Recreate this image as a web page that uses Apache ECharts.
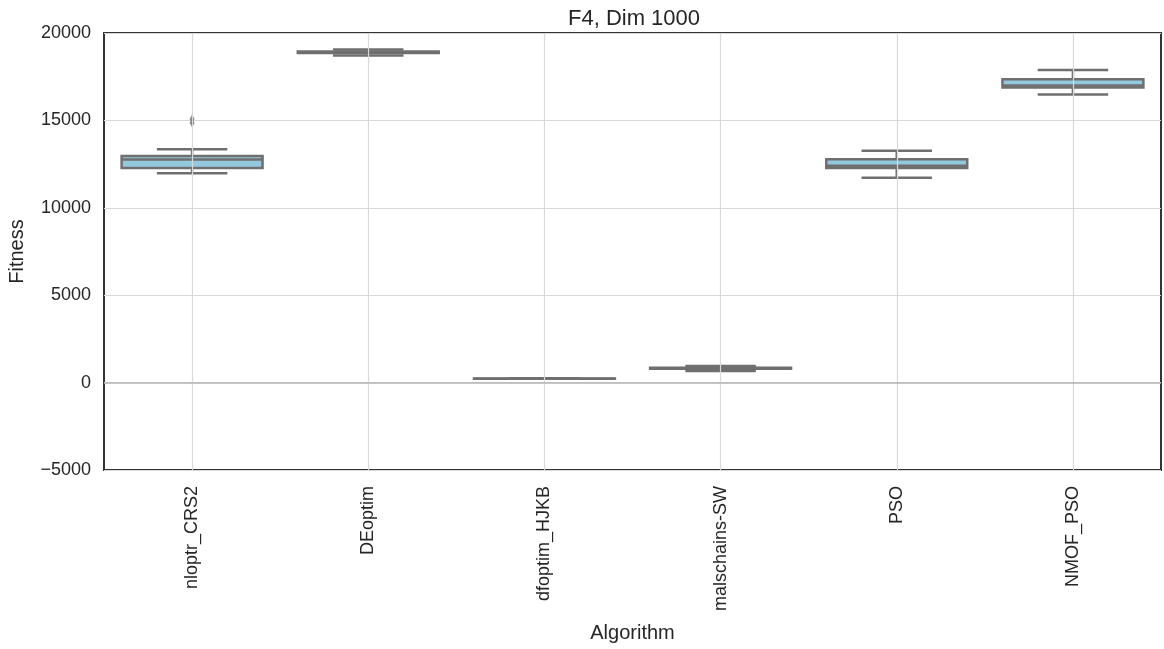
<!DOCTYPE html>
<html>
<head>
<meta charset="utf-8">
<script src="https://cdn.jsdelivr.net/npm/echarts@6/dist/echarts.min.js"></script>
<style>
	html, body { margin: 0; padding: 0; background: #fff; }
	#chart { width: 1164px; height: 649px; }
</style>
</head>
<body>
<div id="chart"></div>
<script>
// values
const categories = ['nloptr_CRS2', 'DEoptim', 'dfoptim_HJKB', 'malschains-SW', 'PSO', 'NMOF_PSO'];
const whiskerLow  = [11970, 18710, 215, 665, 11720, 16480];
const q1          = [12275, 18850, 222, 790, 12275, 16880];
const median      = [12770, 18900, 225, 820, 12410, 17000];
const q3          = [12960, 18940, 228, 850, 12775, 17350];
const whiskerHigh = [13345, 19050, 235, 950, 13265, 17880];
const outliers = [[0, 14850], [0, 15080]];

const yTicks = { min: -5000, max: 20000, step: 5000 };

const boxColor = '#93c9de';
const lineColor = '#6f6f6f';
const gridColor = '#d9d9d9';
const textColor = '#262626';
const fontName = '"Liberation Sans", Arial, sans-serif';

let boxData = categories.map((c, i) => [i, whiskerLow[i], q1[i], median[i], q3[i], whiskerHigh[i]]);

function renderBox(params, api) {
	let idx = api.value(0);
	let band = api.size([1, 0])[0];
	let boxW = band * 0.8;
	let capW = boxW * 0.5;
	let pLow = api.coord([idx, api.value(1)]);
	let pQ1 = api.coord([idx, api.value(2)]);
	let pMed = api.coord([idx, api.value(3)]);
	let pQ3 = api.coord([idx, api.value(4)]);
	let pHigh = api.coord([idx, api.value(5)]);
	let x = pMed[0];
	let ls = { stroke: lineColor, lineWidth: 2.5, fill: null };
	return {
		type: 'group',
		children: [
			{ type: 'rect', shape: { x: x - boxW / 2, y: pQ3[1], width: boxW, height: pQ1[1] - pQ3[1] },
			  style: { fill: boxColor, stroke: lineColor, lineWidth: 2.5 } },
			{ type: 'line', shape: { x1: x, y1: pQ3[1], x2: x, y2: pHigh[1] }, style: ls },
			{ type: 'line', shape: { x1: x, y1: pQ1[1], x2: x, y2: pLow[1] }, style: ls },
			{ type: 'line', shape: { x1: x - capW / 2, y1: pHigh[1], x2: x + capW / 2, y2: pHigh[1] }, style: ls },
			{ type: 'line', shape: { x1: x - capW / 2, y1: pLow[1], x2: x + capW / 2, y2: pLow[1] }, style: ls },
			{ type: 'line', shape: { x1: x - boxW / 2, y1: pMed[1], x2: x + boxW / 2, y2: pMed[1] }, style: ls }
		]
	};
}

let myChart = echarts.init(document.getElementById('chart'));
let gridLines = categories.map(c => ({ xAxis: c }));
gridLines.push({ yAxis: 0, lineStyle: { color: '#b3b3b3', width: 1.5 } });

let option = {
	animation: false,
	title: {
		text: 'F4, Dim 1000',
		left: 563,
		top: 3,
		textStyle: { fontFamily: fontName, fontSize: 22, fontWeight: 'normal', color: textColor }
	},
	grid: {
		left: 104, right: 3, top: 33, bottom: 179,
		containLabel: false,
		outerBoundsMode: 'none',
		show: true, borderColor: '#333333', borderWidth: 2, backgroundColor: '#fff'
	},
	xAxis: {
		type: 'category',
		data: categories,
		name: 'Algorithm',
		nameLocation: 'middle',
		nameGap: 153,
		nameTextStyle: { fontFamily: fontName, fontSize: 20, color: textColor },
		axisLine: { show: false },
		axisTick: { show: false },
		splitLine: { show: false },
		axisLabel: { rotate: 90, margin: 16, fontFamily: fontName, fontSize: 18, color: textColor }
	},
	yAxis: {
		type: 'value',
		min: yTicks.min,
		max: yTicks.max,
		interval: yTicks.step,
		name: 'Fitness',
		nameLocation: 'middle',
		nameGap: 77,
		nameTextStyle: { fontFamily: fontName, fontSize: 20, color: textColor },
		axisLine: { show: false },
		axisTick: { show: false },
		splitLine: { show: true, lineStyle: { color: gridColor, width: 1.2 } },
		axisLabel: {
			margin: 13, fontFamily: fontName, fontSize: 18, color: textColor,
			formatter: v => (v < 0 ? '\u2212' + Math.abs(v) : String(v))
		}
	},
	series: [
		{
			type: 'scatter',
			data: [],
			z: 1,
			silent: true,
			markLine: {
				silent: true,
				symbol: ['none', 'none'],
				label: { show: false },
				lineStyle: { type: 'solid', color: gridColor, width: 1.2 },
				data: gridLines
			}
		},
		{
			type: 'custom',
			z: 3,
			renderItem: renderBox,
			encode: { x: 0, y: [1, 2, 3, 4, 5] },
			data: boxData
		},
		{
			type: 'scatter',
			z: 4,
			symbol: 'diamond',
			symbolSize: [5, 9],
			itemStyle: { color: lineColor },
			data: outliers
		}
	]
};

option && myChart.setOption(option);
</script>
</body>
</html>
